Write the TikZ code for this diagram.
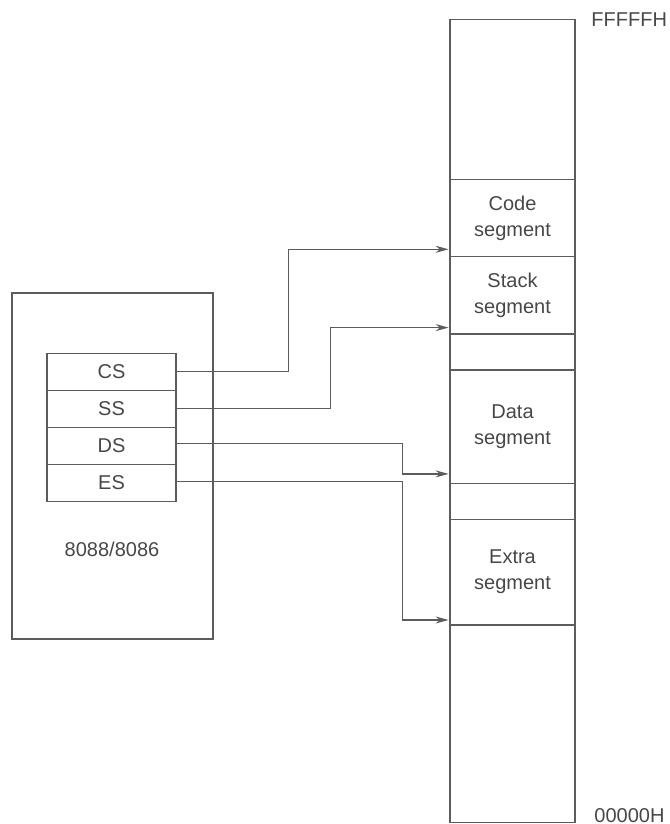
\documentclass[tikz,border=0pt]{standalone}
\usepackage{fontspec}
\setmainfont{Liberation Sans}
\usetikzlibrary{arrows.meta}
\definecolor{ink}{HTML}{474747}
\definecolor{rule}{HTML}{5C5C5C}

\begin{document}
\begin{tikzpicture}[x=0.5pt,y=-0.5pt,font=\fontsize{10}{13}\selectfont,text=ink,
		seg/.style={draw=rule,line width=0.6pt,minimum width=62.5pt,inner sep=0pt,align=center},
		reg/.style={draw=rule,line width=0.6pt,minimum width=64.5pt,minimum height=18.5pt,inner sep=0pt},
		link/.style={draw=rule,line width=0.6pt,-{Stealth[length=6.5pt,width=3.5pt]},shorten >=0.4pt},]
		\useasboundingbox (0,0) rectangle (669,824);
		%processor
		\node[draw=rule,line width=0.6pt,minimum width=100.5pt,minimum height=173pt] (chip) at (112.5,466) {};
		\node (chipname) at (112,549) {8088/8086};
		%segment registers
		\node[reg] (CS) at (111.5,371.8) {CS};
		\node[reg] (SS) at (111.5,408.8) {SS};
		\node[reg] (DS) at (111.5,445.8) {DS};
		\node[reg] (ES) at (111.5,482.8) {ES};
		%memory
		\node[seg,minimum height=80pt] (top) at (512.5,99.3) {};
		\node[seg,minimum height=38.7pt] (code) at (512.5,218) {Code\\segment};
		\node[seg,minimum height=38.65pt] (stack) at (512.5,295.35) {Stack\\segment};
		\node[seg,minimum height=18pt] (gapA) at (512.5,352) {};
		\node[seg,minimum height=56.65pt] (data) at (512.5,426.65) {Data\\segment};
		\node[seg,minimum height=18pt] (gapB) at (512.5,501.3) {};
		\node[seg,minimum height=52.85pt] (extra) at (512.5,572.15) {Extra\\segment};
		\node[seg,minimum height=98.85pt] (bottom) at (512.5,723.85) {};
		%addresses
		\node[anchor=base west,inner sep=0pt] (hi) at (591,26.7) {FFFFFH};
		\node[anchor=base west,inner sep=0pt] (lo) at (594,822) {00000H};
		%links
		\draw[link] (CS.east) -- ++(56pt,0) |- ([yshift=4pt]code.south west);
		\draw[link] (SS.east) -- ++(77pt,0) |- ([yshift=3.5pt]stack.south west);
		\draw[link] ([yshift=1pt]DS.east) -- ++(113pt,0) |- ([yshift=5pt]data.south west);
		\draw[link] ([yshift=0.5pt]ES.east) -- ++(113pt,0) |- ([yshift=2.8pt]extra.south west);
\end{tikzpicture}
\end{document}
